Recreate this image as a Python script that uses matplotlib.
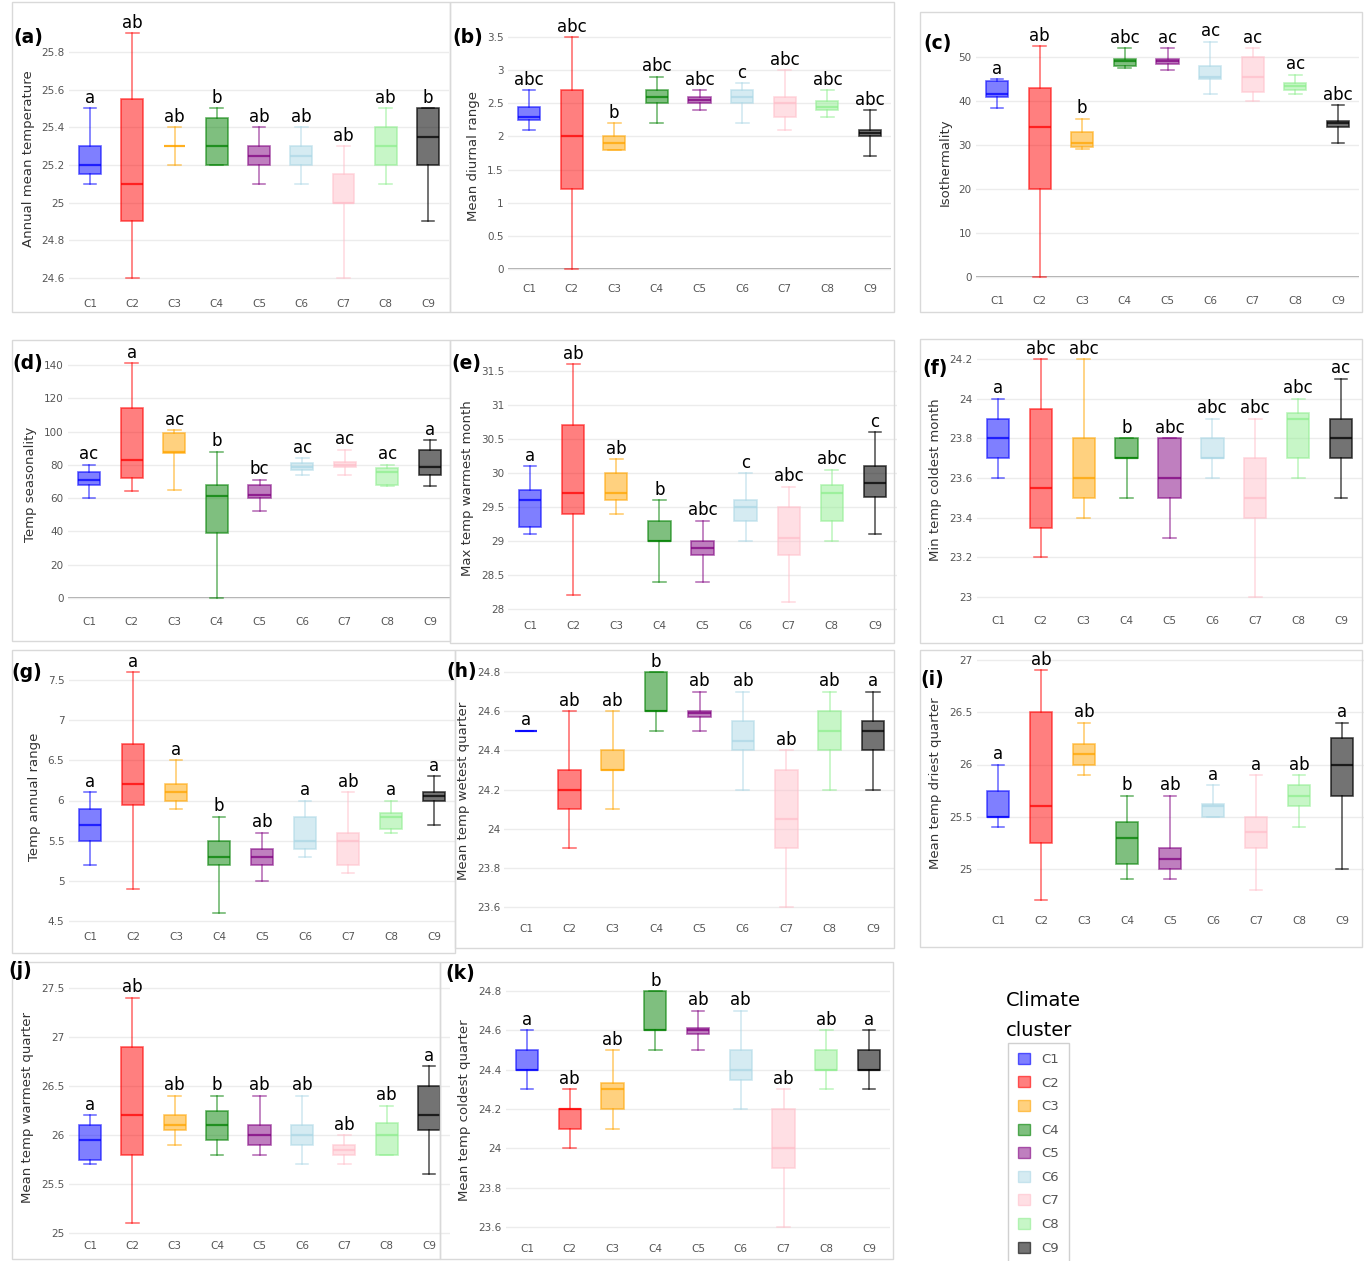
import matplotlib
matplotlib.use('Agg')
import matplotlib.pyplot as plt
from matplotlib.colors import to_rgba
from matplotlib.patches import Patch, Rectangle
from matplotlib.ticker import FormatStrFormatter

clusters = ['C1', 'C2', 'C3', 'C4', 'C5', 'C6', 'C7', 'C8', 'C9']
cluster_colors = ['#0000ff', '#ff0000', '#ffa500', '#008000', '#800080',
                  '#add8e6', '#ffc0cb', '#90ee90', '#000000']

# each row: [lower whisker, Q1, median, Q3, upper whisker]
annual_mean_temp = [[25.1, 25.15, 25.2, 25.3, 25.5], [24.6, 24.9, 25.1, 25.55, 25.9],
                    [25.2, 25.3, 25.3, 25.3, 25.4], [25.2, 25.2, 25.3, 25.45, 25.5],
                    [25.1, 25.2, 25.25, 25.3, 25.4], [25.1, 25.2, 25.25, 25.3, 25.4],
                    [24.6, 25.0, 25.0, 25.15, 25.3], [25.1, 25.2, 25.3, 25.4, 25.5],
                    [24.9, 25.2, 25.35, 25.5, 25.5]]
annual_mean_temp_letters = ['a', 'ab', 'ab', 'b', 'ab', 'ab', 'ab', 'ab', 'b']

mean_diurnal_range = [[2.1, 2.25, 2.3, 2.45, 2.7], [0.0, 1.2, 2.0, 2.7, 3.5],
                      [1.8, 1.8, 1.9, 2.0, 2.2], [2.2, 2.5, 2.6, 2.7, 2.9],
                      [2.4, 2.5, 2.55, 2.6, 2.7], [2.2, 2.5, 2.6, 2.7, 2.8],
                      [2.1, 2.3, 2.5, 2.6, 3.0], [2.3, 2.4, 2.45, 2.53, 2.7],
                      [1.7, 2.0, 2.05, 2.1, 2.4]]
mean_diurnal_range_letters = ['abc', 'abc', 'b', 'abc', 'abc', 'c', 'abc', 'abc', 'abc']

isothermality = [[38.5, 41.0, 41.5, 44.5, 45.0], [0.0, 20.0, 34.0, 43.0, 52.5],
                 [29.0, 29.5, 30.5, 33.0, 36.0], [47.5, 48.0, 49.0, 49.5, 52.0],
                 [47.0, 48.5, 49.0, 49.5, 52.0], [41.5, 45.0, 45.5, 48.0, 53.5],
                 [40.0, 42.0, 45.5, 50.0, 52.0], [41.5, 42.5, 43.5, 44.0, 46.0],
                 [30.5, 34.0, 35.0, 35.5, 39.0]]
isothermality_letters = ['a', 'ab', 'b', 'abc', 'ac', 'ac', 'ac', 'ac', 'abc']

temp_seasonality = [[60, 68, 71, 76, 80], [64, 72, 83, 114, 141],
                    [65, 87, 88, 99, 101], [0, 39, 61, 68, 88],
                    [52, 60, 62, 68, 71], [74, 77, 79, 81, 84],
                    [74, 79, 80, 82, 89], [67, 68, 76, 78, 80],
                    [67, 74, 79, 89, 95]]
temp_seasonality_letters = ['ac', 'a', 'ac', 'b', 'bc', 'ac', 'ac', 'ac', 'a']

max_temp_warmest_month = [[29.1, 29.2, 29.6, 29.75, 30.1], [28.2, 29.4, 29.7, 30.7, 31.6],
                          [29.4, 29.6, 29.7, 30.0, 30.2], [28.4, 29.0, 29.0, 29.3, 29.6],
                          [28.4, 28.8, 28.9, 29.0, 29.3], [29.0, 29.3, 29.5, 29.6, 30.0],
                          [28.1, 28.8, 29.05, 29.5, 29.8], [29.0, 29.3, 29.7, 29.82, 30.05],
                          [29.1, 29.65, 29.85, 30.1, 30.6]]
max_temp_warmest_month_letters = ['a', 'ab', 'ab', 'b', 'abc', 'c', 'abc', 'abc', 'c']

min_temp_coldest_month = [[23.6, 23.7, 23.8, 23.9, 24.0], [23.2, 23.35, 23.55, 23.95, 24.2],
                          [23.4, 23.5, 23.6, 23.8, 24.2], [23.5, 23.7, 23.7, 23.8, 23.8],
                          [23.3, 23.5, 23.6, 23.8, 23.8], [23.6, 23.7, 23.7, 23.8, 23.9],
                          [23.0, 23.4, 23.5, 23.7, 23.9], [23.6, 23.7, 23.9, 23.93, 24.0],
                          [23.5, 23.7, 23.8, 23.9, 24.1]]
min_temp_coldest_month_letters = ['a', 'abc', 'abc', 'b', 'abc', 'abc', 'abc', 'abc', 'ac']

temp_annual_range = [[5.2, 5.5, 5.7, 5.9, 6.1], [4.9, 5.95, 6.2, 6.7, 7.6],
                     [5.9, 6.0, 6.1, 6.2, 6.5], [4.6, 5.2, 5.3, 5.5, 5.8],
                     [5.0, 5.2, 5.3, 5.4, 5.6], [5.3, 5.4, 5.5, 5.8, 6.0],
                     [5.1, 5.2, 5.5, 5.6, 6.1], [5.6, 5.65, 5.8, 5.85, 6.0],
                     [5.7, 6.0, 6.05, 6.1, 6.3]]
temp_annual_range_letters = ['a', 'a', 'a', 'b', 'ab', 'a', 'ab', 'a', 'a']

mean_temp_wettest_quarter = [[24.5, 24.5, 24.5, 24.5, 24.5], [23.9, 24.1, 24.2, 24.3, 24.6],
                             [24.1, 24.3, 24.3, 24.4, 24.6], [24.5, 24.6, 24.6, 24.8, 24.8],
                             [24.5, 24.57, 24.59, 24.6, 24.7], [24.2, 24.4, 24.45, 24.55, 24.7],
                             [23.6, 23.9, 24.05, 24.3, 24.4], [24.2, 24.4, 24.5, 24.6, 24.7],
                             [24.2, 24.4, 24.5, 24.55, 24.7]]
mean_temp_wettest_quarter_letters = ['a', 'ab', 'ab', 'b', 'ab', 'ab', 'ab', 'ab', 'a']

mean_temp_driest_quarter = [[25.4, 25.5, 25.5, 25.75, 26.0], [24.7, 25.25, 25.6, 26.5, 26.9],
                            [25.9, 26.0, 26.1, 26.2, 26.4], [24.9, 25.05, 25.3, 25.45, 25.7],
                            [24.9, 25.0, 25.1, 25.2, 25.7], [25.5, 25.5, 25.6, 25.62, 25.8],
                            [24.8, 25.2, 25.35, 25.5, 25.9], [25.4, 25.6, 25.7, 25.8, 25.9],
                            [25.0, 25.7, 26.0, 26.25, 26.4]]
mean_temp_driest_quarter_letters = ['a', 'ab', 'ab', 'b', 'ab', 'a', 'a', 'ab', 'a']

mean_temp_warmest_quarter = [[25.7, 25.75, 25.95, 26.1, 26.2], [25.1, 25.8, 26.2, 26.9, 27.4],
                             [25.9, 26.05, 26.1, 26.2, 26.4], [25.8, 25.95, 26.1, 26.25, 26.4],
                             [25.8, 25.9, 26.0, 26.1, 26.4], [25.7, 25.9, 26.0, 26.1, 26.4],
                             [25.7, 25.8, 25.85, 25.9, 26.0], [25.8, 25.8, 26.0, 26.12, 26.3],
                             [25.6, 26.05, 26.2, 26.5, 26.7]]
mean_temp_warmest_quarter_letters = ['a', 'ab', 'ab', 'b', 'ab', 'ab', 'ab', 'ab', 'a']

mean_temp_coldest_quarter = [[24.3, 24.4, 24.4, 24.5, 24.6], [24.0, 24.1, 24.2, 24.2, 24.3],
                             [24.1, 24.2, 24.3, 24.33, 24.5], [24.5, 24.6, 24.6, 24.8, 24.8],
                             [24.5, 24.58, 24.6, 24.61, 24.7], [24.2, 24.35, 24.4, 24.5, 24.7],
                             [23.6, 23.9, 24.0, 24.2, 24.3], [24.3, 24.4, 24.4, 24.5, 24.6],
                             [24.3, 24.4, 24.4, 24.5, 24.6]]
mean_temp_coldest_quarter_letters = ['a', 'ab', 'ab', 'b', 'ab', 'ab', 'ab', 'ab', 'a']

W, H = 1370, 1261
fig = plt.figure(figsize=(W / 100, H / 100), dpi=100)
fig.patch.set_facecolor('white')

# layout: (tag, data, letters, ylabel, x_C1px, x_C9px, tick_hi, px_hi, tick_lo, px_lo, ylim, yticks, zero_line, tag_xy)
panels = [
    ('(a)', annual_mean_temp, annual_mean_temp_letters, 'Annual mean temperature',
     90, 428, 25.8, 52, 24.6, 278, (24.52, 25.95), [24.6, 24.8, 25, 25.2, 25.4, 25.6, 25.8], False, (13, 38)),
    ('(b)', mean_diurnal_range, mean_diurnal_range_letters, 'Mean diurnal range',
     529, 870, 3.5, 37, 0, 269, (-0.15, 3.55), [0, 0.5, 1, 1.5, 2, 2.5, 3, 3.5], True, (452, 37)),
    ('(c)', isothermality, isothermality_letters, 'Isothermality',
     997, 1338, 50, 57, 0, 277, (-3, 55), [0, 10, 20, 30, 40, 50], True, (923, 43)),
    ('(d)', temp_seasonality, temp_seasonality_letters, 'Temp seasonality',
     89, 430, 140, 365, 0, 598, (-8, 145), [0, 20, 40, 60, 80, 100, 120, 140], True, (12, 364)),
    ('(e)', max_temp_warmest_month, max_temp_warmest_month_letters, 'Max temp warmest month',
     530, 875, 31.5, 371, 28, 609, (27.9, 31.65), [28, 28.5, 29, 29.5, 30, 30.5, 31, 31.5], False, (451, 363)),
    ('(f)', min_temp_coldest_month, min_temp_coldest_month_letters, 'Min temp coldest month',
     998, 1341, 24.2, 359, 23, 597, (22.93, 24.25), [23, 23.2, 23.4, 23.6, 23.8, 24, 24.2], False, (922, 368)),
    ('(g)', temp_annual_range, temp_annual_range_letters, 'Temp annual range',
     90, 434, 7.5, 680, 4.5, 921, (4.43, 7.65), [4.5, 5, 5.5, 6, 6.5, 7, 7.5], False, (11, 673)),
    ('(h)', mean_temp_wettest_quarter, mean_temp_wettest_quarter_letters, 'Mean temp wetest quarter',
     526, 873, 24.8, 672, 23.6, 907, (23.54, 24.85), [23.6, 23.8, 24, 24.2, 24.4, 24.6, 24.8], False, (446, 672)),
    ('(i)', mean_temp_driest_quarter, mean_temp_driest_quarter_letters, 'Mean temp driest quarter',
     998, 1342, 27, 660, 25, 869, (24.6, 27.05), [25, 25.5, 26, 26.5, 27], False, (920, 680)),
    ('(j)', mean_temp_warmest_quarter, mean_temp_warmest_quarter_letters, 'Mean temp warmest quarter',
     90, 429, 27.5, 988, 25, 1233, (24.97, 27.6), [25, 25.5, 26, 26.5, 27, 27.5], False, (8, 970)),
    ('(k)', mean_temp_coldest_quarter, mean_temp_coldest_quarter_letters, 'Mean temp coldest quarter',
     527, 869, 24.8, 991, 23.6, 1227, (23.54, 24.85), [23.6, 23.8, 24, 24.2, 24.4, 24.6, 24.8], False, (445, 973)),
]

# light panel frames
frames = [(12, 2, 450, 312), (450, 2, 894, 312), (920, 12, 1362, 312),
          (12, 340, 450, 641), (450, 340, 894, 643), (920, 339, 1362, 643),
          (12, 650, 455, 953), (455, 650, 894, 948), (920, 650, 1362, 947),
          (12, 962, 440, 1259), (440, 962, 893, 1259)]
for x0, y0, x1, y1 in frames:
    fig.add_artist(Rectangle((x0 / W, 1 - y1 / H), (x1 - x0) / W, (y1 - y0) / H,
                             transform=fig.transFigure, fill=False, ec='#d9d9d9', lw=1.0))

for (tag, data, letters, ylabel, xc1, xc9, thi, phi, tlo, plo, ylim, yticks, zline, tagxy) in panels:
    s = (xc9 - xc1) / 8.0
    left = xc1 - 0.5 * s
    right = xc9 + 0.5 * s
    ppu = (plo - phi) / (thi - tlo)
    top = phi - (ylim[1] - thi) * ppu
    bot = plo + (tlo - ylim[0]) * ppu
    ax = fig.add_axes([left / W, 1 - bot / H, (right - left) / W, (bot - top) / H])
    ax.set_facecolor('none')
    for i, (row, col, letter) in enumerate(zip(data, cluster_colors, letters)):
        st = [dict(whislo=row[0], q1=row[1], med=row[2], q3=row[3], whishi=row[4], fliers=[])]
        alpha_face = 0.55 if col == '#000000' else 0.5
        ec = to_rgba(col, 0.6 if col != '#000000' else 0.7)
        ax.bxp(st, positions=[i + 1], widths=0.52, capwidths=0.3, patch_artist=True,
               showfliers=False,
               boxprops=dict(facecolor=to_rgba(col, alpha_face), edgecolor=ec, linewidth=1.2),
               whiskerprops=dict(color=ec, linewidth=1.1),
               capprops=dict(color=ec, linewidth=1.1),
               medianprops=dict(color=to_rgba(col, 0.75), linewidth=1.6))
        ax.annotate(letter, xy=(i + 1, row[4]), xytext=(0, 1), textcoords='offset points',
                    ha='center', va='bottom', fontsize=12, color='black', annotation_clip=False)
    ax.set_xlim(0.5, 9.5)
    ax.set_ylim(*ylim)
    ax.set_xticks(range(1, 10))
    ax.set_xticklabels(clusters)
    ax.set_yticks(yticks)
    ax.yaxis.set_major_formatter(FormatStrFormatter('%g'))
    ax.tick_params(length=0, labelsize=7.5, labelcolor='#555555', pad=3)
    ax.tick_params(axis='x', pad=4)
    for sp in ax.spines.values():
        sp.set_visible(False)
    ax.yaxis.grid(True, color='#ececec', lw=1.0)
    ax.set_axisbelow(True)
    if zline:
        ax.axhline(0, color='#a0a0a0', lw=1.3, zorder=0.5)
    ax.set_ylabel(ylabel, fontsize=9.5, color='#333333', labelpad=5)
    fig.text(tagxy[0] / W, 1 - tagxy[1] / H, tag, fontsize=13.5, fontweight='bold',
             ha='left', va='center')

# legend
fig.text(1006 / W, 1 - 1001 / H, 'Climate', fontsize=14, ha='left', va='center')
fig.text(1006 / W, 1 - 1031 / H, 'cluster', fontsize=14, ha='left', va='center')
handles = [Patch(facecolor=to_rgba(c, 0.55 if c == '#000000' else 0.5),
                 edgecolor=to_rgba(c, 0.6), label=l) for c, l in zip(cluster_colors, clusters)]
leg = fig.legend(handles=handles, loc='upper left', bbox_to_anchor=(1008 / W, 1 - 1043 / H),
                 frameon=True, fancybox=False, edgecolor='#d0d0d0', framealpha=1,
                 fontsize=9.5, handlelength=0.9, handleheight=0.9, labelspacing=0.8,
                 borderpad=0.75, handletextpad=0.9, borderaxespad=0, labelcolor='#555555')

fig.savefig('out.png', dpi=100, facecolor='white')
